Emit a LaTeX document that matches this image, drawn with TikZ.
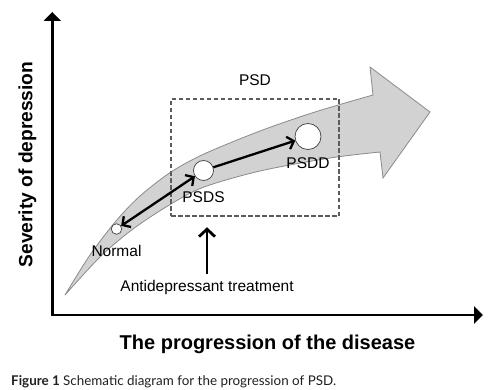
\documentclass[tikz,border=0pt]{standalone}
\usepackage{fontspec}
\setmainfont{Liberation Sans}
\newfontfamily\capfont{Lato}
\usetikzlibrary{arrows.meta,positioning}
\definecolor{bandgray}{HTML}{D2D2D2}
\definecolor{bandedge}{HTML}{8A8A8A}
\definecolor{dashgray}{HTML}{5C5C5C}
\definecolor{captiontext}{HTML}{231F20}
\tikzset{
  axisline/.style={
    line width=2.8pt,
    line join=miter,
    {Triangle[length=9pt,width=17pt]}-{Triangle[length=9pt,width=17pt]}
  },
  axislabel/.style={font=\bfseries\fontsize{20}{24}\selectfont, inner sep=0pt},
  stage/.style={circle, draw=black!75, fill=white, line width=0.7pt, inner sep=0pt},
  stagelabel/.style={font=\fontsize{15.5}{18}\selectfont, inner sep=0pt}
}

\begin{document}
\begin{tikzpicture}[
  x=1pt, y=-1pt,
  band/.style={fill=bandgray, draw=bandedge, line width=0.8pt, line join=miter},
  psdbox/.style={
    draw=dashgray,
    dashed,
    dash pattern=on 4.5pt off 2.5pt,
    line width=1.5pt,
    minimum width=168pt,
    minimum height=117pt,
    inner sep=0pt
  },
  stageArrow/.style={line width=2.3pt, -{Straight Barb[length=6pt,width=13pt]}},
  stagePairArrow/.style={line width=2.3pt, {Straight Barb[length=6pt,width=13pt]}-{Straight Barb[length=6pt,width=13pt]}},
  treatArrow/.style={line width=2.8pt, -{Straight Barb[length=7.5pt,width=16pt]}}
]
  \useasboundingbox (0,0) rectangle (492,390);

  % axes
  \coordinate (origin) at (52.3,315);
  \coordinate (ytop) at (52.3,12);
  \coordinate (xend) at (483,315);
  \draw[axisline] (ytop) -- (origin) -- (xend);
  \node[axislabel, font=\bfseries\fontsize{19.2}{23}\selectfont, rotate=90] (ylab) at (27.5,164.5) {Severity of depression};
  \node[axislabel, anchor=base] (xlab) at (267.5,349.5) {The progression of the disease};

  % curved grey arrow
  \filldraw[band]
    plot[smooth] coordinates {(65,295) (90,255) (116,221) (140,196) (171,172) (204,154) (260,131) (315,112) (373,95)}
    -- (370,67) -- (430,112) -- (383,178) -- (380,152)
    -- plot[smooth] coordinates {(380,152) (330,158) (260,171) (204,187) (171,204) (133,229) (100,257) (65,295)}
    -- cycle;

  \node[psdbox] (box) at (255,157.5) {};
  \node[stagelabel, above=12pt of box] (psd) {PSD};

  \node[stage, minimum size=10.5pt] (normal) at (116.5,229) {};
  \node[stage, minimum size=20pt] (psds) at (203.5,170.5) {};
  \node[stage, minimum size=26pt] (psdd) at (308,136.5) {};
  \node[stagelabel, below=10pt of normal] (normallab) {Normal};
  \node[stagelabel, below=10.5pt of psds] (psdslab) {PSDS};
  \node[stagelabel, below=7.5pt of psdd] (psddlab) {PSDD};

  \draw[stagePairArrow] (normal) -- (psds);
  \draw[stageArrow] (psds) -- (psdd);

  \node[stagelabel, inner sep=3pt] (treat) at (207,287) {Antidepressant treatment};
  \draw[treatArrow, shorten <=3pt, shorten >=10.5pt] (treat.north) -- (treat.north |- box.south);

  \node[anchor=base west, inner sep=0pt, text=captiontext, font=\capfont\fontsize{13.4}{15}\selectfont] (caption) at (11,385)
    {\textbf{Figure 1} Schematic diagram for the progression of PSD.};
\end{tikzpicture}
\end{document}
